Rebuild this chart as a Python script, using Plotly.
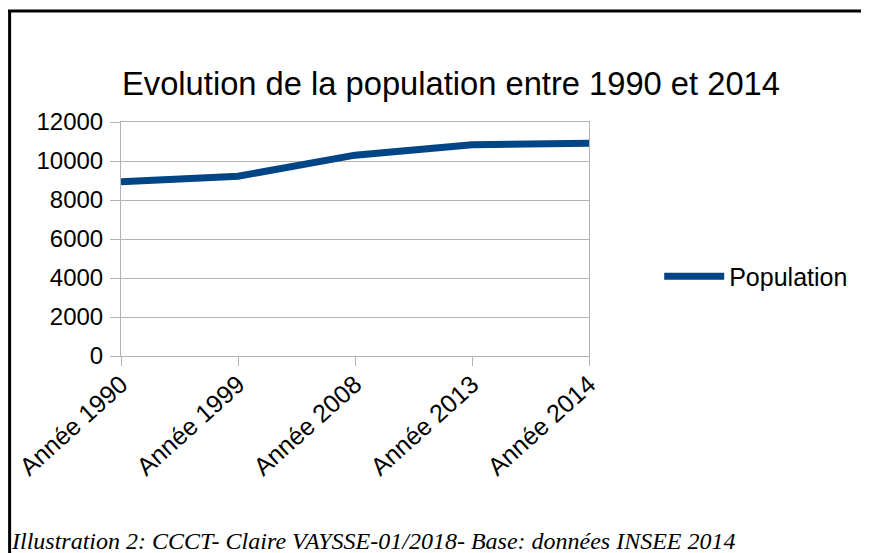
import plotly.graph_objects as go

# Population par année
annees = ["Année 1990", "Année 1999", "Année 2008", "Année 2013", "Année 2014"]
population = [8940, 9220, 10300, 10830, 10910]
y_ticks = [0, 2000, 4000, 6000, 8000, 10000, 12000]

titre = "Evolution de la population entre 1990 et 2014"
legende = "Population"
source = "Illustration 2: CCCT- Claire VAYSSE-01/2018- Base: données INSEE 2014"

BLEU = "#004586"
GRILLE = "#b3b3b3"

fig = go.Figure()

fig.add_trace(
    go.Scatter(
        x=annees,
        y=population,
        mode="lines",
        name=legende,
        line=dict(color=BLEU, width=7),
    )
)

# la page a une marge de 8 px : la figure est un peu plus petite que la fenêtre
fig.update_layout(
    width=861,
    height=545,
    margin=dict(l=113, r=280, t=114, b=197),
    paper_bgcolor="white",
    plot_bgcolor="white",
    font=dict(family="Liberation Sans, Arial, sans-serif", color="black", size=24),
    title=dict(
        text=titre,
        x=0.5145,
        xanchor="center",
        y=0.862,
        yanchor="middle",
        font=dict(size=32.7),
    ),
    showlegend=True,
    legend=dict(
        x=1.15,
        y=0.34,
        xanchor="left",
        yanchor="middle",
        itemwidth=60,
        font=dict(size=25),
        bgcolor="rgba(0,0,0,0)",
    ),
    xaxis=dict(
        type="category",
        range=[0, len(annees) - 1],
        tickangle=-42,
        ticks="outside",
        ticklen=9,
        tickcolor=GRILLE,
        ticklabelstandoff=-6,
        showgrid=False,
        showline=True,
        linecolor=GRILLE,
        mirror=True,
        automargin=False,
        tickfont=dict(size=25),
    ),
    yaxis=dict(
        range=[0, 12000],
        tickvals=y_ticks,
        tickformat="d",
        ticks="outside",
        ticklen=10,
        tickcolor=GRILLE,
        ticklabelstandoff=2,
        gridcolor=GRILLE,
        showline=True,
        linecolor=GRILLE,
        mirror=True,
        zeroline=False,
        automargin=False,
        tickfont=dict(size=24),
    ),
)

# Cadre (haut et gauche) de l'illustration
fig.add_shape(type="line", xref="paper", yref="paper",
              x0=-0.2415, x1=1.6, y0=1.474, y1=1.474,
              line=dict(color="black", width=3))
fig.add_shape(type="line", xref="paper", yref="paper",
              x0=-0.238, x1=-0.238, y0=1.474, y1=-0.85,
              line=dict(color="black", width=3))

fig.add_annotation(
    text=source,
    xref="paper", yref="paper",
    x=-0.239, y=-0.79,
    xanchor="left", yanchor="middle",
    showarrow=False,
    font=dict(family="Liberation Serif, Times New Roman, serif", size=24,
              style="italic"),
)

fig.write_html("out.html")
